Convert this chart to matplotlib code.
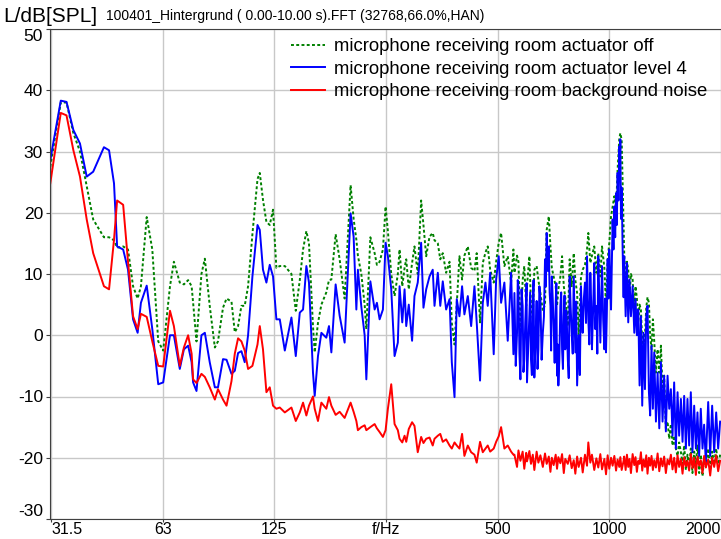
import matplotlib.pyplot as plt
from matplotlib.ticker import FixedLocator, NullLocator

plt.rcParams['font.family'] = ['Liberation Sans', 'DejaVu Sans']
plt.rcParams['axes.unicode_minus'] = False

# spectrum, split in frequency bands (Hz / dB)
f_a = [31.1, 33.2, 34.4, 35.9, 37.4, 39.0, 40.6, 43.4, 44.8, 46.2, 47.1, 48.9, 50.4, 52.0,
       53.5, 54.6, 56.6, 58.6, 60.8]
off_a = [27.5, 38.0, 38.0, 33.0, 30.0, 24.3, 18.9, 16.0, 16.0, 15.5, 14.3, 14.5, 14.0, 8.0,
         6.0, 8.0, 19.3, 14.0, -1.0]
act_a = [28.6, 38.3, 38.1, 33.5, 31.3, 25.9, 26.7, 30.7, 30.2, 24.8, 14.5, 14.0, 10.7, 2.6,
         0.4, 5.3, 8.1, 1.0, -8.0]
bg_a = [24.8, 36.3, 35.9, 30.2, 25.9, 18.9, 13.4, 8.0, 7.5, 15.6, 22.0, 21.3, 12.0, 3.1,
        1.0, 3.5, 3.0, -1.0, -5.0]

f_b = [62.7, 65.4, 67.0, 69.5, 71.3, 73.2, 74.8, 75.5, 77.1, 79.5, 81.2, 83.7, 86.4, 88.1,
       90.9, 92.9, 95.8, 97.8, 99.8, 101.9, 104.0, 106.2, 109.1, 112.6, 114.2, 116.5, 119.0,
       121.5, 124.0, 126.6]
off_b = [-2.5, 8.0, 12.0, 8.6, 8.3, 9.0, 8.0, 5.3, -1.0, 10.0, 12.5, 4.8, -2.0, -1.0, 4.5,
         6.0, 5.5, 0.5, 1.5, 4.8, 4.8, 8.0, 16.5, 25.5, 26.5, 22.1, 18.5, 18.0, 20.5, 11.0]
act_b = [-7.7, 0.0, 0.0, -5.5, -2.3, -1.7, -4.4, -7.7, -9.1, 0.0, 0.4, -4.4, -8.5, -8.5, -3.9,
         -4.0, -6.3, -5.8, -2.9, -2.6, -4.4, 0.0, 9.6, 18.0, 17.2, 10.7, 8.6, 11.5, 9.6, 2.6]
bg_b = [-5.1, 4.0, 1.5, -5.0, -2.0, 0.0, -3.0, -7.2, -7.8, -6.3, -6.8, -8.5, -10.5, -8.8,
        -10.5, -11.5, -7.5, -3.0, -0.5, -1.0, -2.5, -5.5, -5.0, -1.5, 1.5, -2.3, -9.3, -8.5,
        -11.5, -12.0]

f_c = [129.3, 133.4, 139.0, 142.8, 146.4, 149.4, 152.5, 155.0, 158.9, 160.6, 163.9, 167.4,
       172.6, 175.5, 178.1, 182.9, 187.5, 193.4, 200.7, 204.5, 208.0, 210.0, 214.5, 219.0,
       221.3, 226.9, 233.0, 236.3, 240.3, 245.3, 249.4, 253.0, 258.3, 263.7, 269.1]
off_c = [11.3, 11.3, 10.0, 4.0, 9.0, 14.0, 17.0, 15.0, 1.5, -2.8, 2.0, 5.0, 7.0, 9.0, 9.1,
         16.5, 12.4, 6.0, 24.5, 19.0, 15.6, 13.0, 10.0, 5.0, 1.0, 16.0, 13.4, 11.5, 12.0, 14.0,
         21.0, 17.0, 10.0, 6.4, 10.0]
act_c = [2.6, -2.5, 2.9, -3.4, 3.7, 4.2, 11.3, 8.6, -6.1, -9.9, -3.4, 0.4, -0.4, 1.5, -2.8,
         8.3, 3.2, -1.2, 19.9, 16.1, 4.2, 10.7, 4.7, 0.0, -7.2, 8.8, 4.2, 5.3, 2.6, 4.2, 15.1,
         12.9, 7.5, -3.4, -1.2]
bg_c = [-11.8, -12.6, -11.8, -14.0, -12.6, -11.0, -13.1, -11.5, -10.0, -12.0, -14.0, -11.0,
        -12.0, -10.1, -11.5, -13.0, -12.5, -13.5, -11.0, -12.5, -14.0, -15.5, -15.0, -14.7,
        -15.5, -15.0, -14.5, -15.2, -15.8, -16.6, -15.5, -12.0, -8.0, -14.5, -15.5]

f_d = [272.0, 276.6, 280.6, 283.5, 288.0, 294.0, 298.4, 304.5, 311.0, 315.5, 320.9, 327.6,
       334.2, 337.9, 344.9, 350.2, 355.7, 363.2, 371.0, 376.2, 382.6, 388.0, 394.5, 401.0,
       406.8, 415.5, 424.2, 433.0, 439.1, 448.3, 456.0, 463.6, 470.2, 477.4, 488.0, 495.4,
       503.4, 510.9, 521.4, 532.4, 543.6, 551.5]
off_d = [14.0, 8.0, 11.0, 12.4, 7.5, 11.8, 14.5, 10.0, 22.0, 18.0, 12.9, 16.1, 16.7, 15.5,
         15.0, 12.4, 13.4, 10.2, 12.0, 2.0, -1.5, 5.0, 12.9, 9.1, 13.0, 14.5, 11.0, 10.5, 13.4,
         2.1, 11.8, 13.5, 14.5, 10.7, 8.6, 12.0, 15.1, 16.7, 11.3, 12.9, 8.6, 14.0]
act_d = [8.0, 2.1, 7.5, 1.5, 5.0, -0.9, 6.4, 8.6, 15.1, 4.5, 7.5, 9.6, 10.7, 4.8, 10.2, 4.8,
         8.8, 4.2, 5.9, -4.4, -10.1, 5.9, 3.1, 8.0, 3.4, 6.4, 1.5, 8.0, 2.1, -7.4, 5.3, 8.6,
         4.8, 10.2, -3.1, 9.1, 12.9, 5.3, 8.6, -0.9, 10.2, -3.1]
bg_d = [-16.9, -17.5, -16.4, -17.4, -15.3, -14.2, -14.8, -19.1, -16.6, -17.6, -16.9, -16.7,
        -18.0, -16.9, -16.4, -16.1, -17.4, -17.0, -18.0, -18.5, -17.5, -18.0, -18.5, -16.1,
        -19.7, -18.0, -19.1, -19.5, -20.8, -17.4, -19.1, -18.5, -18.0, -19.0, -18.5, -17.4,
        -16.5, -15.0, -18.5, -18.0, -19.0, -19.5]

f_e = [555, 564, 569, 576, 584, 590, 597, 600, 609, 615, 622, 628, 637, 644, 652, 662, 671,
       678, 687, 694, 700, 708, 717, 723, 729, 738, 746, 754, 761, 773, 782, 792, 802, 810,
       819, 827, 839, 848, 860, 871, 878, 889, 898, 911, 923, 934, 946, 956, 970, 980, 990,
       1000, 1011, 1021, 1032, 1043, 1053, 1064, 1071, 1080, 1093]
off_e = [10.2, 13.0, 12.0, 0.4, 9.0, 11.3, 4.8, 8.0, 12.9, 5.0, 2.6, 10.7, 11.3, 9.0, 6.9,
         4.0, 5.0, 17.2, 19.4, 14.5, 11.0, 9.6, 8.0, 4.8, 7.5, 9.5, 12.9, 8.0, 6.2, 1.5, 12.4,
         8.0, 13.4, 9.0, 6.9, 0.0, 9.6, 10.7, 11.5, 14.0, 16.7, 11.8, 13.0, 14.5, 10.2, 13.4,
         9.6, 14.5, 11.0, 4.8, 12.4, 15.0, 19.4, 21.0, 22.7, 20.5, 27.0, 32.0, 33.0, 31.9, 17.2]
act_e = [6.9, 0.4, 8.0, -7.2, 4.8, -3.9, 6.2, -7.7, 3.7, -3.9, 5.9, -6.9, 5.6, -2.3, 5.9, 0.4,
         12.4, 16.7, 14.5, 4.8, 9.6, 1.5, 5.3, -6.6, -8.2, 4.8, -2.3, 3.1, -2.3, -3.9, 9.6,
         0.4, 9.6, -2.8, -8.2, 0.0, 8.0, 0.4, 8.6, 12.9, 2.6, 10.2, -2.3, 11.8, 4.8, 12.9,
         -1.2, 11.3, -2.3, -2.8, 12.4, 14.0, 4.2, 18.9, 21.0, 23.2, 26.5, 30.8, 32.0, 24.1, 6.2]
bg_e = [-19.5, -21.5, -18.8, -20.5, -19.0, -21.8, -19.2, -20.6, -18.9, -21.0, -19.5, -22.0,
        -19.0, -20.8, -19.6, -21.5, -19.3, -21.0, -19.8, -22.3, -20.0, -21.2, -19.5, -21.8,
        -19.9, -20.9, -19.4, -22.5, -20.2, -21.0, -19.6, -21.7, -20.4, -22.6, -19.8, -21.5,
        -20.0, -22.4, -19.5, -21.3, -17.5, -20.8, -19.5, -22.0, -20.1, -21.6, -19.4, -21.9,
        -20.2, -22.7, -19.6, -21.8, -20.0, -21.3, -19.7, -22.1, -20.3, -21.5, -19.9, -22.0,
        -20.5]

# extra blue readings in the dense 555-1093 Hz band
f_e2 = [559.5, 566.5, 572.5, 580, 587, 593.5, 598.5, 604.5, 612, 618.5, 625, 632.5, 640.5,
        648, 657, 666.5, 674.5, 682.5, 690.5, 697, 704, 712.5, 720, 726, 733.5, 742, 750,
        757.5, 767, 777.5, 787, 797, 806, 814.5, 823, 833, 843.5, 854, 865.5, 874.5, 883.5,
        893.5, 904.5, 917, 928.5, 940, 951, 963, 975, 985, 995, 1005.5, 1016, 1026.5, 1037.5,
        1048, 1058.5, 1067.5, 1075.5, 1086.5]
act_e2 = [-5.0, 9.0, -3.0, 7.5, -6.0, 2.0, 8.5, -2.0, 7.0, -6.5, 9.0, -1.0, -5.5, 8.0, -4.0,
          3.0, 8.0, 10.5, 7.0, -2.5, 6.0, -4.5, 8.5, -1.5, -4.0, 7.0, -5.5, 6.5, 4.0, -7.0,
          4.5, -3.0, 3.0, 5.5, -4.0, -6.5, 3.5, 6.0, 2.0, 7.5, -1.5, 5.5, 4.0, 1.0, -3.0, 6.5,
          5.0, 2.5, 6.0, 3.5, 6.0, 9.5, 12.0, 14.0, 16.0, 18.0, 22.0, 27.0, 19.0, 14.0]

f_f = [1097, 1107, 1116, 1125, 1134, 1144, 1156, 1168, 1177, 1187, 1197, 1207, 1217, 1227,
       1237, 1248, 1258, 1268, 1279, 1289, 1300, 1311, 1322, 1336, 1350, 1364, 1378, 1392,
       1406, 1421, 1436, 1451, 1466, 1481, 1496, 1512, 1528, 1543, 1560, 1576, 1592, 1609,
       1625, 1642, 1659, 1676, 1694, 1712, 1729, 1747, 1765, 1784, 1802, 1821, 1848, 1871,
       1894, 1918, 1942, 1966, 1990]
off_f = [13.5, 8.0, 12.0, 10.7, 6.5, 10.0, 9.1, 4.0, 8.0, 6.0, 2.1, 5.0, 4.2, -1.0, -2.3, 0.0,
         4.5, 6.2, 5.3, 0.0, -2.3, 2.6, -1.0, -6.1, -2.3, -6.1, -1.7, -8.8, -6.6, -15.2, -14.1,
         -16.9, -14.5, -18.0, -16.4, -18.5, -19.7, -17.5, -19.1, -21.0, -18.0, -22.0, -19.5,
         -21.5, -18.5, -22.5, -19.0, -21.0, -18.0, -22.5, -19.5, -23.0, -20.0, -21.5, -18.5,
         -22.0, -19.0, -21.0, -18.5, -21.5, -19.5]
act_f = [12.9, 3.1, 11.8, 2.1, 9.1, 3.1, 8.0, 0.4, 5.9, 0.0, 4.2, -8.2, 3.1, -11.5, 0.4, -8.8,
         3.1, 4.8, -9.3, -13.1, -1.7, -12.0, -2.8, -14.1, -6.1, -15.2, -4.4, -14.1, -6.6,
         -15.7, -6.6, -12.0, -8.8, -16.4, -7.7, -18.5, -9.3, -16.4, -10.4, -17.4, -9.9, -18.5,
         -10.4, -18.0, -9.3, -19.1, -11.5, -18.5, -12.6, -19.7, -12.0, -18.5, -14.6, -20.8,
         -10.9, -19.7, -11.5, -19.1, -12.6, -18.5, -14.1]
bg_f = [-19.8, -22.0, -19.5, -21.5, -20.2, -22.5, -19.4, -21.2, -19.9, -22.3, -20.5, -21.0,
        -19.1, -22.1, -20.3, -21.5, -19.6, -22.6, -20.0, -21.3, -19.7, -22.0, -20.4, -21.6,
        -19.3, -22.2, -20.1, -21.4, -19.8, -22.5, -20.3, -21.1, -19.5, -21.9, -20.0, -22.4,
        -19.6, -21.5, -20.2, -22.6, -19.9, -21.4, -20.5, -22.1, -19.4, -21.7, -20.0, -22.8,
        -19.8, -21.3, -20.4, -22.5, -19.7, -21.6, -20.3, -22.9, -20.0, -21.5, -19.6, -22.2,
        -20.5]

freq = f_a + f_b + f_c + f_d + f_e + f_f
level_off = off_a + off_b + off_c + off_d + off_e + off_f
level_bg = bg_a + bg_b + bg_c + bg_d + bg_e + bg_f
act_pts = sorted(zip(freq + f_e2, act_a + act_b + act_c + act_d + act_e + act_f + act_e2))
freq_act = [p[0] for p in act_pts]
level_act4 = [p[1] for p in act_pts]

xtick_pos = [31.25, 62.5, 125, 250, 500, 1000, 2000]
xtick_lab = ['31.5', '63', '125', 'f/Hz', '500', '1000', '2000']
ytick_pos = [-30, -20, -10, 0, 10, 20, 30, 40, 50]

fig = plt.figure(figsize=(7.21, 5.39), dpi=100)
ax = fig.add_axes([50 / 721, 20 / 539, 671 / 721, 490 / 539])

ax.plot(freq, level_off, color='#008000', lw=1.4, ls=(0, (1.5, 1.2)),
        label='microphone receiving room actuator off')
ax.plot(freq_act, level_act4, color='#0000ff', lw=1.4,
        label='microphone receiving room actuator level 4')
ax.plot(freq, level_bg, color='#ff0000', lw=1.4,
        label='microphone receiving room background noise')

ax.set_xscale('log')
ax.set_xlim(31.05, 2001)
ax.set_ylim(-30, 50)
ax.xaxis.set_major_locator(FixedLocator(xtick_pos))
ax.xaxis.set_minor_locator(NullLocator())
ax.set_xticklabels(xtick_lab)
ax.set_yticks(ytick_pos)
ax.tick_params(axis='y', labelsize=12.5, length=3, color='#404040', pad=2)
ax.tick_params(axis='x', labelsize=11.5, length=2, color='#404040', pad=0)
xl = ax.get_xticklabels()
xl[0].set_ha('left')
xl[-1].set_ha('right')
yl = ax.get_yticklabels()
yl[0].set_va('bottom')
yl[-1].set_va('top')

ax.grid(True, color='#c8c8c8', lw=1)
ax.set_axisbelow(True)
ax.spines['right'].set_visible(False)
for s in ['left', 'top', 'bottom']:
    ax.spines[s].set_color('#404040')

ax.legend(loc='upper right', bbox_to_anchor=(0.993, 1.0), frameon=False, fontsize=13.3,
          handlelength=1.8, handletextpad=0.5, labelspacing=0.3, borderaxespad=0.1)

fig.text(3 / 721, 1 - 17 / 539, 'L/dB[SPL]', fontsize=15, va='center', ha='left')
fig.text(106 / 721, 1 - 16 / 539, '100401_Hintergrund ( 0.00-10.00 s).FFT (32768,66.0%,HAN)',
         fontsize=10, va='center', ha='left')

fig.savefig('out.png', dpi=100)
